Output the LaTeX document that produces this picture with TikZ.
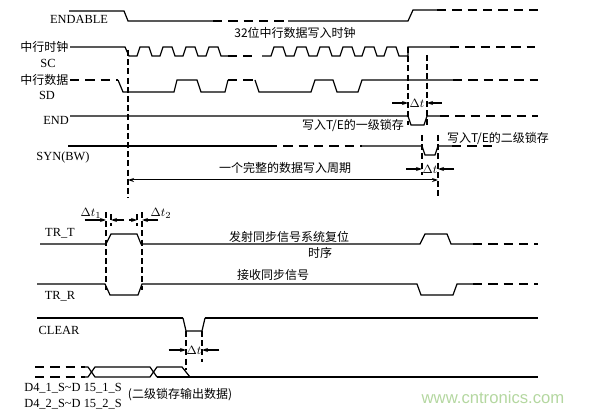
\documentclass[tikz,border=0pt]{standalone}
\usepackage{fontspec}
\setmainfont{Liberation Serif}
\newfontfamily\cjk{Noto Sans CJK SC}
\newfontfamily\wmfont{Liberation Sans}
\usetikzlibrary{arrows.meta}

\tikzset{every picture/.style={line width=0.9pt}}
\tikzset{
  dsig/.style={dash pattern={on 7pt off 4.5pt}},
  guide/.style={dash pattern={on 4.5pt off 2.4pt}},
  heavy/.style={line width=1.6pt},
  dtarr/.style={-{Stealth[length=4.5pt,width=3pt]}},
  lbl/.style={inner sep=0.75pt, font=\fontsize{9.3}{11}\selectfont},
  cnlbl/.style={inner sep=0.75pt, font=\fontsize{9}{11}\selectfont\cjk},
}

\begin{document}
\begin{tikzpicture}[x=0.75pt,y=0.75pt,yscale=-1,xscale=1]
\useasboundingbox (0,0) rectangle (595,413);

%Signal: ENDABLE
\draw    (69,11) -- (124,11) -- (128,21) -- (213,21) ;
\draw  [dsig]  (213,21) -- (288,21) ;
\draw    (288,21) -- (408,21) -- (413,10) -- (437,10) ;
\draw  [dsig]  (437,10) -- (543,10) ;

%Signal: SC
\draw    (70,47) -- (125,47) -- (129,56) -- (137,56) -- (140,47) -- (149,47) -- (152,56) -- (160,56) -- (163,47) -- (172,47) -- (175,56) -- (183,56) -- (186,47) -- (195,47) -- (198,56) -- (206,56) -- (209,47) -- (218,47) -- (221,56) -- (228,56) ;
\draw  [dsig]  (228,56) -- (252,56) ;
\draw    (262,56) -- (271,56) -- (274,47) -- (283,47) -- (286,56) -- (294,56) -- (297,47) -- (306,47) -- (309,56) -- (317,56) -- (320,47) -- (329,47) -- (332,56) -- (340,56) -- (343,47) -- (352,47) -- (355,56) -- (362,56) -- (365,47) -- (374,47) -- (377,56) -- (384,56) -- (387,47) -- (396,47) -- (399,56) -- (408,56) -- (408,47) -- (450,47) ;
\draw  [dsig]  (450,47) -- (535,47) ;

%Signal: SD
\draw  [dsig]  (70,80) -- (118,80) ;
\draw    (118,80) -- (123,92) -- (174,92) -- (177,80) -- (197,80) -- (201,92) -- (225,92) -- (228,80) ;
\draw  [dsig]  (228,80) -- (255,80) ;
\draw    (255,80) -- (259,92) -- (311,92) -- (315,80) -- (333,80) -- (337,92) -- (358,92) -- (362,80) -- (453,80) ;
\draw  [dsig]  (453,80) -- (538,80) ;

%Signal: END
\draw    (70,116) -- (408,116) -- (411,125) -- (424,125) -- (427,116) -- (440,116) ;
\draw  [dsig]  (440,116) -- (538,116) ;

%Signal: SYN(BW)
\draw    (68,146) -- (268,146) ;
\draw  [dsig]  (268,146) -- (362,146) ;
\draw    (362,146) -- (422,146) -- (425,155) -- (435,155) -- (438,146) -- (452,146) ;
\draw  [dsig]  (452,146) -- (495,146) ;

%Signal: TR_T
\draw    (40,244) -- (106,244) -- (111,234) -- (137,234) -- (141,244) -- (420,244) -- (425,234) -- (447,234) -- (451,244) -- (473,244) ;
\draw  [dsig]  (473,244) -- (538,244) ;

%Signal: TR_R
\draw    (37,284) -- (105,284) -- (110,295) -- (138,295) -- (142,284) -- (417,284) -- (421,295) -- (453,295) -- (457,284) -- (473,284) ;
\draw  [dsig]  (473,284) -- (538,284) ;

%Signal: CLEAR
\draw  [heavy]  (37,318) -- (183,318) ;
\draw    (183,318) -- (186,331) -- (202,331) -- (205,318) ;
\draw  [heavy]  (205,318) -- (538,318) ;

%Signal: D4..D15 bus
\draw  [dsig]  (35,367) -- (85,367) ;
\draw  [dsig]  (35,377) -- (85,377) ;
\draw    (85,367) -- (88,367) -- (95,377) -- (150,377) -- (157,367) -- (182,367) -- (190,377) ;
\draw    (85,377) -- (88,377) -- (95,367) -- (150,367) -- (157,377) ;
\draw  [heavy]  (157,377) -- (538,377) ;

%Guides
\draw  [guide]  (128,50) -- (128,198) ;
\draw  [guide]  (408,47) -- (408,125) ;
\draw  [guide]  (427,55) -- (427,125) ;
\draw  [guide]  (422,135) -- (422,175) ;
\draw  [guide]  (438,135) -- (438,198) ;
\draw  [guide]  (106,212) -- (106,290) ;
\draw  [guide]  (111,214) -- (111,226) ;
\draw  [guide]  (137,214) -- (137,226) ;
\draw  [guide]  (142,212) -- (142,290) ;
\draw  [guide]  (186,331) -- (186,370) ;
\draw  [guide]  (202,331) -- (202,362) ;

%Delta t marks
\coordinate (scA) at (408,103) ; \coordinate (scB) at (427,103) ;
\coordinate (synA) at (422,169) ; \coordinate (synB) at (438,169) ;
\coordinate (trA) at (106,220) ; \coordinate (trB) at (111,220) ;
\coordinate (trC) at (137,220) ; \coordinate (trD) at (142,220) ;
\coordinate (clA) at (186,350) ; \coordinate (clB) at (202,350) ;
\coordinate (perA) at (128,180) ; \coordinate (perB) at (438,180) ;

\draw  [dtarr]  ([xshift=-12pt]scA) -- (scA) ;
\draw  [dtarr]  ([xshift=11pt]scB) -- (scB) ;
\draw  [dtarr]  ([xshift=-12pt]synA) -- (synA) ;
\draw  [dtarr]  ([xshift=12pt]synB) -- (synB) ;
\draw  [dtarr]  ([xshift=-16pt]trA) -- (trA) ;
\draw  [dtarr]  ([xshift=10pt]trB) -- (trB) ;
\draw  [dtarr]  ([xshift=-6pt]trC) -- (trC) ;
\draw  [dtarr]  ([xshift=12pt]trD) -- (trD) ;
\draw  [dtarr]  ([xshift=-13pt]clA) -- (clA) ;
\draw  [dtarr]  ([xshift=13pt]clB) -- (clB) ;
\draw  [line width=0.75pt, {Stealth[length=4.5pt,width=3pt]}-{Stealth[length=4.5pt,width=3pt]}]  (perA) -- (perB) ;

%Labels
\draw (79,19) node [lbl] (lEndable) {ENDABLE};
\draw (70,47) node [cnlbl,anchor=east] (lScCn) {中行时钟};
\draw (48,63) node [lbl] (lSc) {SC};
\draw (70,80) node [cnlbl,anchor=east] (lSdCn) {中行数据};
\draw (47,95) node [lbl] (lSd) {SD};
\draw (56,120) node [lbl] (lEnd) {END};
\draw (63,158) node [lbl] (lSyn) {SYN(BW)};
\draw (60,233) node [lbl] (lTrt) {TR\_T};
\draw (60,296) node [lbl] (lTrr) {TR\_R};
\draw (59,330) node [lbl] (lClear) {CLEAR};
\draw (73,388) node [lbl] (lBus1) {D4\_1\_S\textasciitilde D 15\_1\_S};
\draw (73,404) node [lbl] (lBus2) {D4\_2\_S\textasciitilde D 15\_2\_S};
\draw (180,395) node [cnlbl] (lBusCn) {(二级锁存输出数据)};

\draw (295,33) node [cnlbl] (lClk) {32位中行数据写入时钟};
\draw (353,125) node [cnlbl] (lLatch1) {写入T/E的一级锁存};
\draw (498,138) node [cnlbl] (lLatch2) {写入T/E的二级锁存};
\draw (285,168) node [cnlbl] (lPeriod) {一个完整的数据写入周期};
\draw (289,237) node [cnlbl] (lSend) {发射同步信号系统复位};
\draw (320,253) node [cnlbl] (lSeq) {时序};
\draw (273,275) node [cnlbl] (lRecv) {接收同步信号};

\draw (417,103) node [lbl] (dtSc) {$\Delta t$};
\draw (430,169) node [lbl] (dtSyn) {$\Delta t$};
\draw (91,213) node [lbl] (dt1) {$\Delta t_1$};
\draw (161,213) node [lbl] (dt2) {$\Delta t_2$};
\draw (194,350) node [lbl] (dtCl) {$\Delta t$};

%Watermark
\draw (493,398) node [inner sep=0pt, font=\fontsize{12.5}{14}\selectfont\wmfont, text={rgb,255:red,180;green,215;blue,160}] (wm) {www.cntronics.com};

\end{tikzpicture}
\end{document}
